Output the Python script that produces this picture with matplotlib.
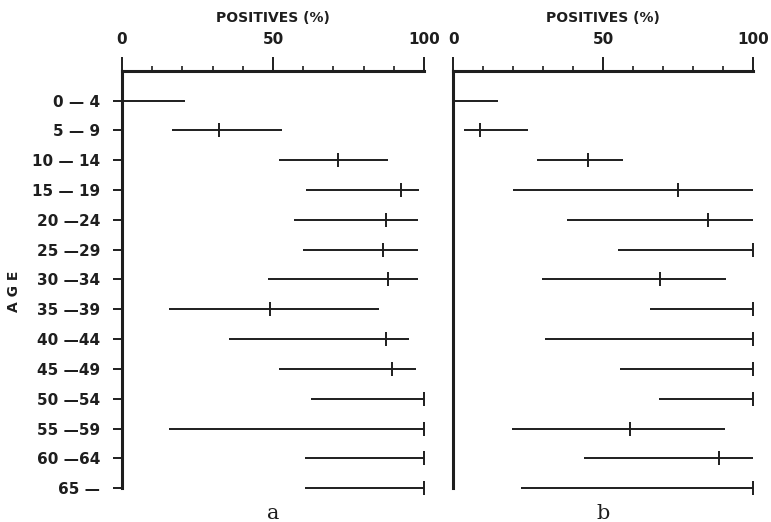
import matplotlib.pyplot as plt
from matplotlib.ticker import MultipleLocator

plt.rcParams["font.family"] = "DejaVu Sans"

# age groups (rows, top to bottom)
ages = ["0 — 4", "5 — 9", "10 — 14", "15 — 19", "20 —24", "25 —29", "30 —34",
        "35 —39", "40 —44", "45 —49", "50 —54", "55 —59", "60 —64", "65 —"]

# panel a: range low / high and the marked value (% positives)
a_low = [0, 16.5, 52, 61, 57, 60, 48.5, 15.5, 35.5, 52, 62.5, 15.5, 60.5, 60.5]
a_mid = [0, 32, 71.5, 92.5, 87.5, 86.5, 88, 49, 87.5, 89.5, 100, 100, 100, 100]
a_high = [21, 53, 88, 98.5, 98, 98, 98, 85, 95, 97.5, 100, 100, 100, 100]

# panel b
b_low = [0, 3.5, 28, 20, 38, 55, 29.5, 65.5, 30.5, 55.5, 68.5, 19.5, 43.5, 22.5]
b_mid = [0, 9, 45, 75, 85, 100, 69, 100, 100, 100, 100, 59, 88.5, 100]
b_high = [15, 25, 56.5, 100, 100, 100, 91, 100, 100, 100, 100, 90.5, 100, 100]

ink = "#1e1e1e"

fig = plt.figure(figsize=(7.71, 5.22), dpi=100)
ax_a = fig.add_axes([0.1582, 0.0646, 0.3917, 0.80])
ax_b = fig.add_axes([0.5880, 0.0646, 0.3891, 0.80])


def draw_panel(ax, low, mid, high, letter, show_y):
    rows = list(range(len(ages)))
    ax.hlines(rows, low, high, color=ink, lw=1.4, clip_on=False)
    ax.plot(mid, rows, "|", color=ink, ms=10, mew=1.4, clip_on=False)

    ax.set_xlim(0, 100)
    ax.set_ylim(len(ages) - 1, -1.0)

    for s in ["right", "bottom"]:
        ax.spines[s].set_visible(False)
    for s in ["left", "top"]:
        ax.spines[s].set_linewidth(2.2)
        ax.spines[s].set_color(ink)

    ax.xaxis.tick_top()
    ax.xaxis.set_major_locator(MultipleLocator(50))
    ax.xaxis.set_minor_locator(MultipleLocator(10))
    ax.tick_params(axis="x", which="major", direction="out", length=10, width=1.4,
                   color=ink, pad=7, labelsize=11)
    ax.tick_params(axis="x", which="minor", direction="out", length=3.6, width=1.2,
                   color=ink)
    ax.set_xticks([0, 50, 100])
    ax.set_xticklabels(["0", "50", "100"], fontweight="bold", color=ink)

    if show_y:
        ax.set_yticks(rows)
        ax.set_yticklabels(ages, fontweight="bold", color=ink)
        ax.tick_params(axis="y", direction="out", length=6.5, width=1.4,
                       color=ink, pad=9, labelsize=11)
    else:
        ax.set_yticks([])

    ax.text(0.5, 1.126, "POSITIVES (%)", transform=ax.transAxes, ha="center",
            va="center", fontsize=10, fontweight="bold", color=ink)
    ax.text(0.5, -0.06, letter, transform=ax.transAxes, ha="center", va="center",
            fontsize=15, family="DejaVu Serif", color=ink)


draw_panel(ax_a, a_low, a_mid, a_high, "a", True)
draw_panel(ax_b, b_low, b_mid, b_high, "b", False)

fig.text(0.018, 1 - 291 / 522, "A G E", rotation=90, ha="center", va="center",
         fontsize=10, fontweight="bold", color=ink)

fig.savefig("out.png", dpi=100)
